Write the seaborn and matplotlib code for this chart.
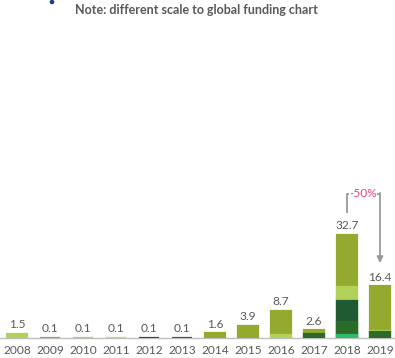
import numpy as np
import pandas as pd
import matplotlib
matplotlib.use("Agg")
import matplotlib.pyplot as plt
from matplotlib.patches import Circle
import seaborn as sns

# Funding by year, split into stacked segments (bottom to top)
years = ["2008", "2009", "2010", "2011", "2012", "2013",
         "2014", "2015", "2016", "2017", "2018", "2019"]
seg_bright = [0, 0, 0, 0, 0, 0, 0, 0, 0, 0, 1.1, 0]
seg_medium = [0, 0, 0, 0, 0, 0.1, 0, 0, 0, 1.4, 4.1, 2.1]
seg_dark = [0, 0, 0, 0, 0.1, 0, 0, 0, 0, 0, 6.6, 0]
seg_yellow = [0, 0, 0, 0.1, 0, 0, 0, 0, 0, 0, 0, 0]
seg_light = [1.5, 0, 0.1, 0, 0, 0, 0, 0, 1.1, 0, 4.4, 0.3]
seg_olive = [0, 0.1, 0, 0, 0, 0, 1.6, 3.9, 7.6, 1.2, 16.5, 14.0]

layers = [seg_bright, seg_medium, seg_dark, seg_yellow, seg_light, seg_olive]
colors = ["#2DBB6C", "#2B6B2A", "#1F5A33", "#D2DC2A", "#B2D159", "#93AA2F"]

sns.set_theme(style="white")
plt.rcParams["font.family"] = ["Lato", "DejaVu Sans"]

grey_text = "#595959"
fs = 8.6

fig = plt.figure(figsize=(3.95, 3.58), dpi=100)
ax = fig.add_axes([0, 0.055, 1, 0.8332])

vals = np.array(layers, dtype=float)
cum = np.cumsum(vals, axis=0)
totals = cum[-1]

# Stack by overlaying cumulative heights, tallest first
for k in range(len(layers) - 1, -1, -1):
    h = np.where(vals[k] > 0, cum[k], np.nan)
    df = pd.DataFrame({"year": years, "value": h})
    sns.barplot(data=df, x="year", y="value", order=years, color=colors[k],
                saturation=1, width=0.6, edgecolor=colors[k], linewidth=1.6,
                errorbar=None, ax=ax)

# Value labels above each bar
for i, t in enumerate(totals):
    ax.annotate(f"{t:.1f}", (i, t), xytext=(0, 4.0), textcoords="offset points",
                ha="center", va="baseline", fontsize=fs, color=grey_text)

ax.set_xlim(-0.515, 11.455)
ax.set_ylim(0, 94.4)
ax.set_xlabel("")
ax.set_ylabel("")
ax.set_yticks([])
sns.despine(ax=ax, left=True, top=True, right=True)
ax.spines["bottom"].set_color("#BFBFBF")
ax.spines["bottom"].set_linewidth(1.0)
ax.spines["bottom"].set_zorder(0.5)
ax.tick_params(axis="x", length=0, pad=4.5, labelsize=fs, colors=grey_text)

# Year-on-year change bracket between the last two bars
i18, i19 = years.index("2018"), years.index("2019")
t18, t19 = totals[i18], totals[i19]
change = (t19 - t18) / t18 * 100
top = t18 + 13.1
arrow_grey = "#9A9A9A"
ax.plot([i18, i18, i18 + 0.07], [t18 + 7.0, top, top], color=arrow_grey, lw=1.3,
        solid_capstyle="butt")
ax.plot([i19 - 0.08, i19], [top, top], color=arrow_grey, lw=1.3, solid_capstyle="butt")
ax.annotate("", xy=(i19, t19 + 7.4), xytext=(i19, top + 0.2),
            arrowprops=dict(arrowstyle="-|>", color=arrow_grey, lw=1.3,
                            mutation_scale=9, shrinkA=0, shrinkB=0))
ax.text((i18 + i19) / 2 - 0.01, top, f"{change:.0f}%", ha="center", va="center",
        fontsize=fs, color="#EE4479")

fig.text(0.498, 0.972, "Note: different scale to global funding chart",
         ha="center", va="center", fontsize=9.0, fontweight="bold", color=grey_text)
fig.patches.append(Circle((52, 356), 1.6, transform=None, color="#1F3A8A"))

fig.savefig("out.png", dpi=100)
